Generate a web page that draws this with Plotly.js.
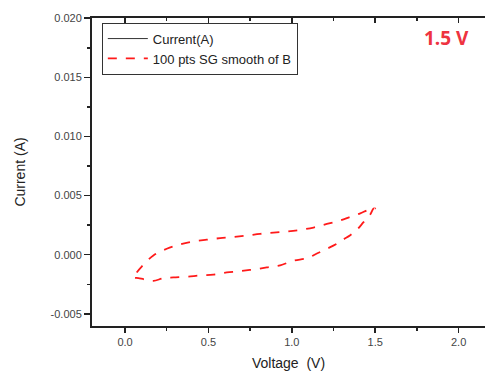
<!DOCTYPE html>
<html><head><meta charset="utf-8">
<script src="https://cdn.plot.ly/plotly-3.0.1.min.js"></script>
<style>html,body{margin:0;padding:0;background:#fff;}#chart{width:485px;height:371px;}</style>
</head><body><div id="chart"></div>
<script>
// Forward sweep (upper branch)
const vForward = [0.05,0.07,0.10,0.17,0.25,0.33,0.41,0.49,0.57,0.65,0.73,0.81,0.89,0.97,1.05,1.13,1.21,1.29,1.35,1.41,1.46,1.50];
const iForward = [-0.0019,-0.0015,-0.0010,-0.00006,0.0005,0.00088,0.00112,0.00127,0.0014,0.0015,0.00162,0.00176,0.00186,0.00196,0.0021,0.0023,0.0026,0.0029,0.0032,0.0035,0.0038,0.0039];
// Return sweep (lower branch)
const vReturn = [1.49,1.47,1.43,1.39,1.35,1.31,1.27,1.21,1.15,1.09,1.01,0.93,0.85,0.77,0.69,0.61,0.53,0.45,0.37,0.29,0.23,0.17,0.12,0.08,0.05];
const iReturn = [0.0039,0.0034,0.00275,0.0021,0.00165,0.0013,0.00093,0.0005,0.0001,-0.0003,-0.0005,-0.0009,-0.00108,-0.00125,-0.00139,-0.0015,-0.00168,-0.00175,-0.00186,-0.00192,-0.00198,-0.00222,-0.0021,-0.00198,-0.0019];
const yTickVals = [-0.005,0,0.005,0.010,0.015,0.020];
const yTickText = ["-0.005","0.000","0.005","0.010","0.015","0.020"];
const xTickVals = [0,0.5,1.0,1.5,2.0];
const xTickText = ["0.0","0.5","1.0","1.5","2.0"];
const seriesNames = ["Current(A)","100 pts SG smooth of B"];
const label = "1.5 V";

const smoothV = vForward.concat(vReturn);
const smoothI = iForward.concat(iReturn);

const traces = [
  {x:[null], y:[null], name:seriesNames[0], mode:'lines', line:{color:'#333', width:1}},
  {x:smoothV, y:smoothI, name:seriesNames[1], mode:'lines', line:{color:'#ff1a1a', width:1.8, dash:'dash', shape:'spline'}}
];
const tickFont = {family:'Arial, Liberation Sans, sans-serif', size:11, color:'#444'};
const layout = {
  width:485, height:371,
  margin:{l:92, r:0, t:18, b:45},
  paper_bgcolor:'#fff', plot_bgcolor:'#fff',
  showlegend:true,
  legend:{x:0.025, y:0.985, xanchor:'left', yanchor:'top', bordercolor:'#333', borderwidth:1,
          bgcolor:'rgba(255,255,255,0)', font:{family:'Arial, Liberation Sans, sans-serif', size:13, color:'#222'},
          tracegroupgap:0, itemwidth:40},
  xaxis:{range:[-0.198,2.158], showgrid:false, zeroline:false, showline:true, linecolor:'#222', linewidth:2,
         ticks:'outside', ticklen:5, tickwidth:1.5, tickcolor:'#222', tickvals:xTickVals, ticktext:xTickText,
         minor:{dtick:0.25, tick0:0, ticks:'outside', ticklen:3, tickwidth:1.5, tickcolor:'#222', showgrid:false},
         tickfont:tickFont,
         title:{text:'Voltage  (V)', font:{family:'Arial, Liberation Sans, sans-serif', size:14, color:'#222'}, standoff:12}},
  xaxis2:{range:[-0.198,2.158], overlaying:'x', side:'top', showgrid:false, zeroline:false, showline:true,
          linecolor:'#222', linewidth:2, ticks:'inside', ticklen:5, tickwidth:1.5, tickcolor:'#222',
          dtick:0.5, tick0:0, showticklabels:false,
          minor:{dtick:0.25, tick0:0, ticks:'inside', ticklen:3, tickwidth:1.5, tickcolor:'#222', showgrid:false}},
  yaxis:{range:[-0.00603,0.02002], showgrid:false, zeroline:false, showline:true, linecolor:'#222', linewidth:2,
         ticks:'outside', ticklen:6, tickwidth:1.5, tickcolor:'#222', tickvals:yTickVals, ticktext:yTickText,
         minor:{dtick:0.0025, tick0:0, ticks:'outside', ticklen:3, tickwidth:1.5, tickcolor:'#222', showgrid:false},
         tickfont:tickFont,
         title:{text:'Current (A)', font:{family:'Arial, Liberation Sans, sans-serif', size:14, color:'#222'}, standoff:22}},
  annotations:[{text:'<b>'+label+'</b>', xref:'paper', yref:'paper', x:0.903, y:0.935, showarrow:false,
                xanchor:'center', yanchor:'middle', font:{family:'Open Sans, sans-serif', size:19, color:'#ee3340'}}]
};
traces.push({x:[null], y:[null], xaxis:'x2', showlegend:false, hoverinfo:'skip'});
Plotly.newPlot('chart', traces, layout, {displayModeBar:false, staticPlot:true});
</script></body></html>
